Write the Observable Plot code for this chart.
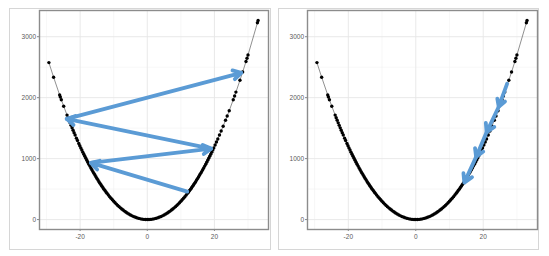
<!DOCTYPE html>
<html>
<head>
<meta charset="utf-8">
<script src="https://cdn.jsdelivr.net/npm/d3@7"></script>
<script src="https://cdn.jsdelivr.net/npm/@observablehq/plot@0.6"></script>
<style>
  html, body { margin: 0; padding: 0; background: #fff; }
  #wrap { position: relative; width: 549px; height: 256px; overflow: hidden; }
  .box { position: absolute; border: 1px solid #d6d6d6; box-sizing: border-box; }
  #wrap svg { position: absolute; top: 0; }
</style>
</head>
<body>
<div id="wrap">
  <div class="box" style="left:9px; top:8px; width:262px; height:242px;"></div>
  <div class="box" style="left:278px; top:8px; width:261px; height:242px;"></div>
</div>
<script>
// curve points (x, y)
const curveX = [-29.3, -27.9, -26.1, -25.9, -25.6, -24.9, -23.9, -23.6, -23.3, -23.0, -22.7, -22.4, -22.1, -21.8, -21.5, -21.1, -20.8, -20.4, -20.1,
  -19.8, -19.5, -19.2, -18.9, -18.6, -18.3, -18.0, -17.7, -17.4, -17.1, -16.8, -16.5, -16.2, -15.9, -15.6, -15.3, -15.0, -14.7, -14.4, -14.1, -13.8, -13.5, -13.2, -12.9, -12.6, -12.3, -12.0,
  -11.6, -11.2, -10.8, -10.4, -10.0, -9.6, -9.2, -8.8, -8.4, -8.0, -7.6, -7.2, -6.8, -6.4, -6.0, -5.5, -5.0, -4.5, -4.0, -3.5, -3.0, -2.5, -2.0, -1.5, -1.0, -0.5,
  0.0, 0.5, 1.0, 1.5, 2.0, 2.5, 3.0, 3.5, 4.0, 4.5, 5.0, 5.5, 6.0, 6.4, 6.8, 7.2, 7.6, 8.0, 8.4, 8.8, 9.2, 9.6, 10.0, 10.4, 10.8, 11.2, 11.6, 12.0,
  12.3, 12.6, 12.9, 13.2, 13.5, 13.8, 14.1, 14.4, 14.7, 15.0, 15.3, 15.6, 15.9, 16.2, 16.5, 16.8, 17.1, 17.4, 17.7, 18.0, 18.3, 18.6, 18.9, 19.2, 19.5, 19.8,
  20.2, 20.6, 21.0, 21.5, 22.0, 22.6, 23.3, 23.8, 24.4, 25.6, 26.0, 26.4, 27.6, 28.4, 29.4, 29.7, 30.0, 32.8, 33.0];
const curveY = [2575, 2335, 2044, 2012, 1966, 1860, 1714, 1671, 1629, 1587, 1546, 1505, 1465, 1426, 1387, 1336, 1298, 1248, 1212,
  1176, 1141, 1106, 1072, 1038, 1005, 972, 940, 908, 877, 847, 817, 787, 758, 730, 702, 675, 648, 622, 596, 571, 547, 523, 499, 476, 454, 432,
  404, 376, 350, 324, 300, 276, 254, 232, 212, 192, 173, 156, 139, 123, 108, 91, 75, 61, 48, 37, 27, 19, 12, 7, 3, 1,
  0, 1, 3, 7, 12, 19, 27, 37, 48, 61, 75, 91, 108, 123, 139, 156, 173, 192, 212, 232, 254, 276, 300, 324, 350, 376, 404, 432,
  454, 476, 499, 523, 547, 571, 596, 622, 648, 675, 702, 730, 758, 787, 817, 847, 877, 908, 940, 972, 1005, 1038, 1072, 1106, 1141, 1176,
  1224, 1273, 1323, 1387, 1452, 1532, 1629, 1699, 1786, 1966, 2028, 2091, 2285, 2420, 2593, 2646, 2700, 3228, 3267];

// gradient-descent paths (arrows join consecutive points)
const leftPathX = [11.9, -16.8, 19.0, -24.0, 28.0];
const leftPathY = [459, 930, 1164, 1651, 2408];
const rightPathX = [27.1, 24.6, 21.0, 17.9, 14.4];
const rightPathY = [2229, 1851, 1433, 1028, 606];

// axes
const xTicks = [-20, 0, 20];
const xMinor = [-30, -10, 10, 30];
const yTicks = [0, 1000, 2000, 3000];
const yMinor = [500, 1500, 2500];

const points = curveX.map((x, i) => ({x, y: curveY[i]}));
function segments(px, py) {
  const s = [];
  for (let i = 0; i < px.length - 1; i++) s.push({x1: px[i], y1: py[i], x2: px[i + 1], y2: py[i + 1]});
  return s;
}

function panel(left, width, mL, mR, segs, sw, hl) {
  const svg = Plot.plot({
    width, height: 256,
    marginLeft: mL, marginRight: mR, marginTop: 10, marginBottom: 27,
    x: {domain: [-32.1, 36.1]},
    y: {domain: [-163, 3430]},
    style: {fontFamily: "'Liberation Sans', Arial, sans-serif", fontSize: "6.5px", color: "#5a5a5a", background: "transparent"},
    marks: [
      Plot.ruleX(xMinor, {stroke: "#f1f1f1", strokeWidth: 0.6}),
      Plot.ruleY(yMinor, {stroke: "#f1f1f1", strokeWidth: 0.6}),
      Plot.ruleX(xTicks, {stroke: "#e6e6e6", strokeWidth: 0.9}),
      Plot.ruleY(yTicks, {stroke: "#e6e6e6", strokeWidth: 0.9}),
      Plot.axisX({ticks: xTicks, tickSize: 2, tickPadding: 3, label: null, stroke: "#888", fill: "#5a5a5a", tickFormat: d => String(d)}),
      Plot.axisY({ticks: yTicks, tickSize: 2, tickPadding: 1.5, label: null, stroke: "#888", fill: "#5a5a5a", tickFormat: d => String(d)}),
      Plot.line(points, {x: "x", y: "y", stroke: "#444", strokeWidth: 0.6}),
      Plot.dot(points, {x: "x", y: "y", r: 1.7, fill: "#000", stroke: null}),
      Plot.arrow(segs, {x1: "x1", y1: "y1", x2: "x2", y2: "y2", stroke: "#5b9bd5", strokeWidth: sw, headLength: hl, headAngle: 60}),
      Plot.frame({stroke: "#8c8c8c", strokeWidth: 1.4})
    ]
  });
  svg.style.left = left + "px";
  document.getElementById("wrap").appendChild(svg);
}

panel(0, 275, 39, 7, segments(leftPathX, leftPathY), 3.8, 3.6);
panel(275, 274, 32, 12, segments(rightPathX, rightPathY), 3.8, 4.2);
</script>
</body>
</html>
